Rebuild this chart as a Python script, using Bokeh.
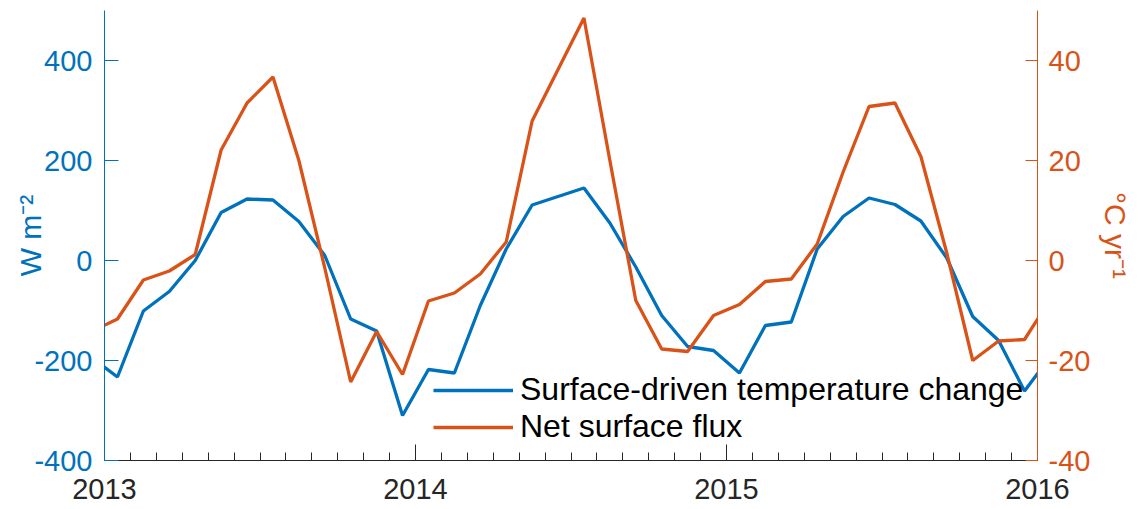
from bokeh.plotting import figure
from bokeh.models import (Range1d, LinearAxis, FixedTicker, Legend, LegendItem,
                          ColumnDataSource)
from bokeh.embed import file_html
from bokeh.resources import INLINE

# ---- data (monthly, mid-month, Dec 2012 .. Jan 2016) ----
start_year = 2012
start_month = 12
surface_driven = [-194,
                  -233, -101, -62, 0, 96, 123, 121, 78, 10, -117, -141, -310,
                  -218, -225, -90, 23, 111, 128, 145, 75, -13, -110, -172, -180,
                  -225, -130, -123, 23, 88, 125, 112, 79, 5, -112, -160, -261,
                  -192]
net_flux = [-14.2,
            -11.7, -3.9, -2.1, 1.2, 22.1, 31.5, 36.7, 20.0, -1.5, -24.3, -14.2, -22.8,
            -8.1, -6.5, -2.7, 3.7, 27.9, 38.2, 48.5, 20.0, -8.0, -17.7, -18.2, -11.0,
            -8.8, -4.2, -3.7, 3.3, 17.7, 30.8, 31.5, 20.8, 1.5, -20.0, -16.1, -15.8,
            -7.7]
year_ticks = [2013, 2014, 2015, 2016]
left_ticks = [-400, -200, 0, 200, 400]
right_ticks = [-40, -20, 0, 20, 40]
label_left = "W m\u207b\u00b2"
label_right = "\u00b0C yr\u207b\u00b9"
names = ["Surface-driven temperature change", "Net surface flux"]

# decimal-year positions (mid-month)
t = [start_year + (start_month - 1 + i + 0.5) / 12.0 for i in range(len(surface_driven))]

BLUE = "#0072BD"
ORANGE = "#D95319"
GREY = "#262626"
FONT = "Liberation Sans"
TICK_SIZE = "29px"

p = figure(width=1140, height=508, output_backend="svg", toolbar_location=None,
           x_range=Range1d(2013, 2016), y_range=Range1d(-400, 500),
           min_border_left=104, min_border_right=103, min_border_top=10,
           min_border_bottom=48)
p.outline_line_color = None
p.grid.visible = False
p.background_fill_color = "white"
p.extra_y_ranges = {"right": Range1d(-40, 50)}

src = ColumnDataSource(dict(t=t, a=surface_driven, b=net_flux))
r1 = p.line("t", "a", source=src, line_color=BLUE, line_width=3.3)
r2 = p.line("t", "b", source=src, line_color=ORANGE, line_width=3.3, y_range_name="right")

# bottom axis
xa = p.xaxis[0]
xa.ticker = FixedTicker(ticks=year_ticks,
                        minor_ticks=[year_ticks[0] + k / 12.0 for k in range(37)])
xa.major_tick_in = 16
xa.major_tick_out = 0
xa.minor_tick_in = 8
xa.minor_tick_out = 0
xa.axis_line_color = GREY
xa.major_tick_line_color = GREY
xa.minor_tick_line_color = GREY
xa.major_label_text_color = GREY
xa.major_label_text_font = FONT
xa.major_label_text_font_size = TICK_SIZE
xa.major_label_standoff = 18
xa.major_label_overrides = {y: str(y) for y in year_ticks}

# left axis
ya = p.yaxis[0]
ya.ticker = FixedTicker(ticks=left_ticks, minor_ticks=[])
ya.major_tick_in = 14
ya.major_tick_out = 0
ya.minor_tick_line_color = None
ya.axis_line_color = BLUE
ya.major_tick_line_color = BLUE
ya.major_label_text_color = BLUE
ya.major_label_text_font = FONT
ya.major_label_text_font_size = TICK_SIZE
ya.major_label_standoff = 12
ya.major_label_overrides = {v: str(v) for v in left_ticks}
ya.axis_label = label_left
ya.axis_label_text_color = BLUE
ya.axis_label_text_font = FONT
ya.axis_label_text_font_size = "30px"
ya.axis_label_text_font_style = "normal"
ya.axis_label_standoff = -16

# right axis
ra = LinearAxis(y_range_name="right", ticker=FixedTicker(ticks=right_ticks, minor_ticks=[]))
ra.major_tick_in = 12
ra.major_tick_out = 0
ra.minor_tick_line_color = None
ra.axis_line_color = ORANGE
ra.major_tick_line_color = ORANGE
ra.major_label_text_color = ORANGE
ra.major_label_text_font = FONT
ra.major_label_text_font_size = TICK_SIZE
ra.major_label_standoff = 11
ra.major_label_overrides = {v: str(v) for v in right_ticks}
ra.axis_label = label_right
ra.axis_label_text_color = ORANGE
ra.axis_label_text_font = FONT
ra.axis_label_text_font_size = "30px"
ra.axis_label_text_font_style = "normal"
ra.axis_label_standoff = 6
p.add_layout(ra, "right")

legend = Legend(items=[LegendItem(label=names[0], renderers=[r1]),
                       LegendItem(label=names[1], renderers=[r2])],
                location=(329, 15), padding=0, margin=0, spacing=-5,
                glyph_width=80, glyph_height=32, label_height=32,
                label_standoff=7, label_text_font=FONT,
                label_text_font_size="32px", label_text_color="black",
                background_fill_alpha=0, border_line_color=None)
p.add_layout(legend, "center")

open("out.html", "w").write(file_html(p, INLINE))
